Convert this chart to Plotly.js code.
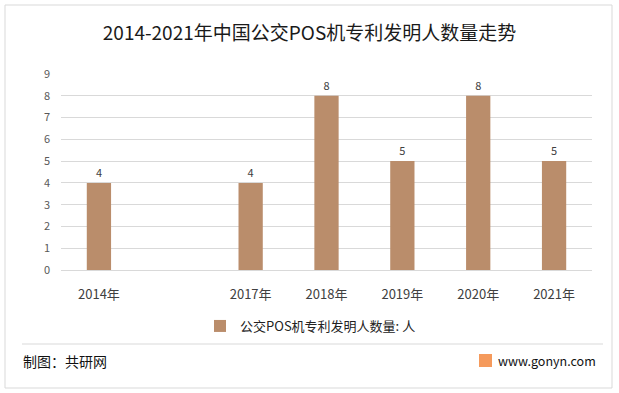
<!DOCTYPE html>
<html>
<head>
<meta charset="utf-8">
<script src="https://cdn.plot.ly/plotly-3.0.1.min.js"></script>
<style>html,body{margin:0;padding:0;background:#fff;}#chart{width:619px;height:393px;}</style>
</head>
<body>
<div id="chart"></div>
<script>
const categories = ["2014年", " ", "2017年", "2018年", "2019年", "2020年", "2021年"];
const values = [4, null, 4, 8, 5, 8, 5];
const seriesName = "公交POS机专利发明人数量: 人";
const yTicks = [0, 1, 2, 3, 4, 5, 6, 7, 8, 9];

const font = "'Microsoft YaHei', 'Noto Sans CJK SC', sans-serif";
const trace = {
  type: "bar",
  x: categories,
  y: values,
  name: seriesName,
  marker: {color: "#BA8D6B"},
  text: values.map(v => v === null ? "" : String(v)),
  textposition: "outside",
  textfont: {size: 11, color: "#404040", family: font},
  cliponaxis: false,
  width: 0.32
};
const layout = {
  width: 619, height: 393,
  margin: {l: 61, r: 27, t: 74, b: 123},
  paper_bgcolor: "#fff", plot_bgcolor: "#fff",
  font: {family: font, color: "#404040"},
  title: {text: "2014-2021年中国公交POS机专利发明人数量走势", font: {size: 19, color: "#1a1a1a", family: font}, x: 0.5, xanchor: "center", y: 0.915, yanchor: "middle"},
  xaxis: {type: "category", tickfont: {size: 13, color: "#404040"}, showline: false, ticks: "", showgrid: false, automargin: false, ticklabelstandoff: 15},
  yaxis: {range: [0, 9], tickvals: yTicks, tickfont: {size: 11, color: "#595959"}, gridcolor: "#d9d9d9", gridwidth: 1, zeroline: true, zerolinecolor: "#d9d9d9", ticks: "", ticklen: 0, automargin: false, ticklabelstandoff: 10},
  showlegend: true,
  legend: {orientation: "h", x: 0.5 - 16/531, xanchor: "center", y: (270-326)/196, yanchor: "middle", font: {size: 13, color: "#222"}, itemwidth: 30},
  shapes: [
    {type: "rect", xref: "paper", yref: "paper", x0: -56/531, x1: (612-61)/531, y0: (270-388)/196, y1: (270-5)/196, line: {color: "#d9d9d9", width: 1}},
    {type: "line", xref: "paper", yref: "paper", x0: -39/531, x1: (603-61)/531, y0: (270-344)/196, y1: (270-344)/196, line: {color: "#d9d9d9", width: 1}},
    {type: "rect", xref: "paper", yref: "paper", x0: (479-61)/531, x1: (492-61)/531, y0: (270-367)/196, y1: (270-354)/196, line: {width: 0}, fillcolor: "#F59A5C"}
  ],
  annotations: [
    {text: "制图：共研网", xref: "paper", yref: "paper", x: -40/531, xanchor: "left", y: (270-361)/196, yanchor: "middle", showarrow: false, font: {size: 14, color: "#111"}},
    {text: "www.gonyn.com", xref: "paper", yref: "paper", x: (598-61)/531, xanchor: "right", y: (270-360)/196, yanchor: "middle", showarrow: false, font: {size: 12.5, color: "#111"}}
  ]
};
Plotly.newPlot("chart", [trace], layout, {displayModeBar: false, staticPlot: true});
</script>
</body>
</html>
